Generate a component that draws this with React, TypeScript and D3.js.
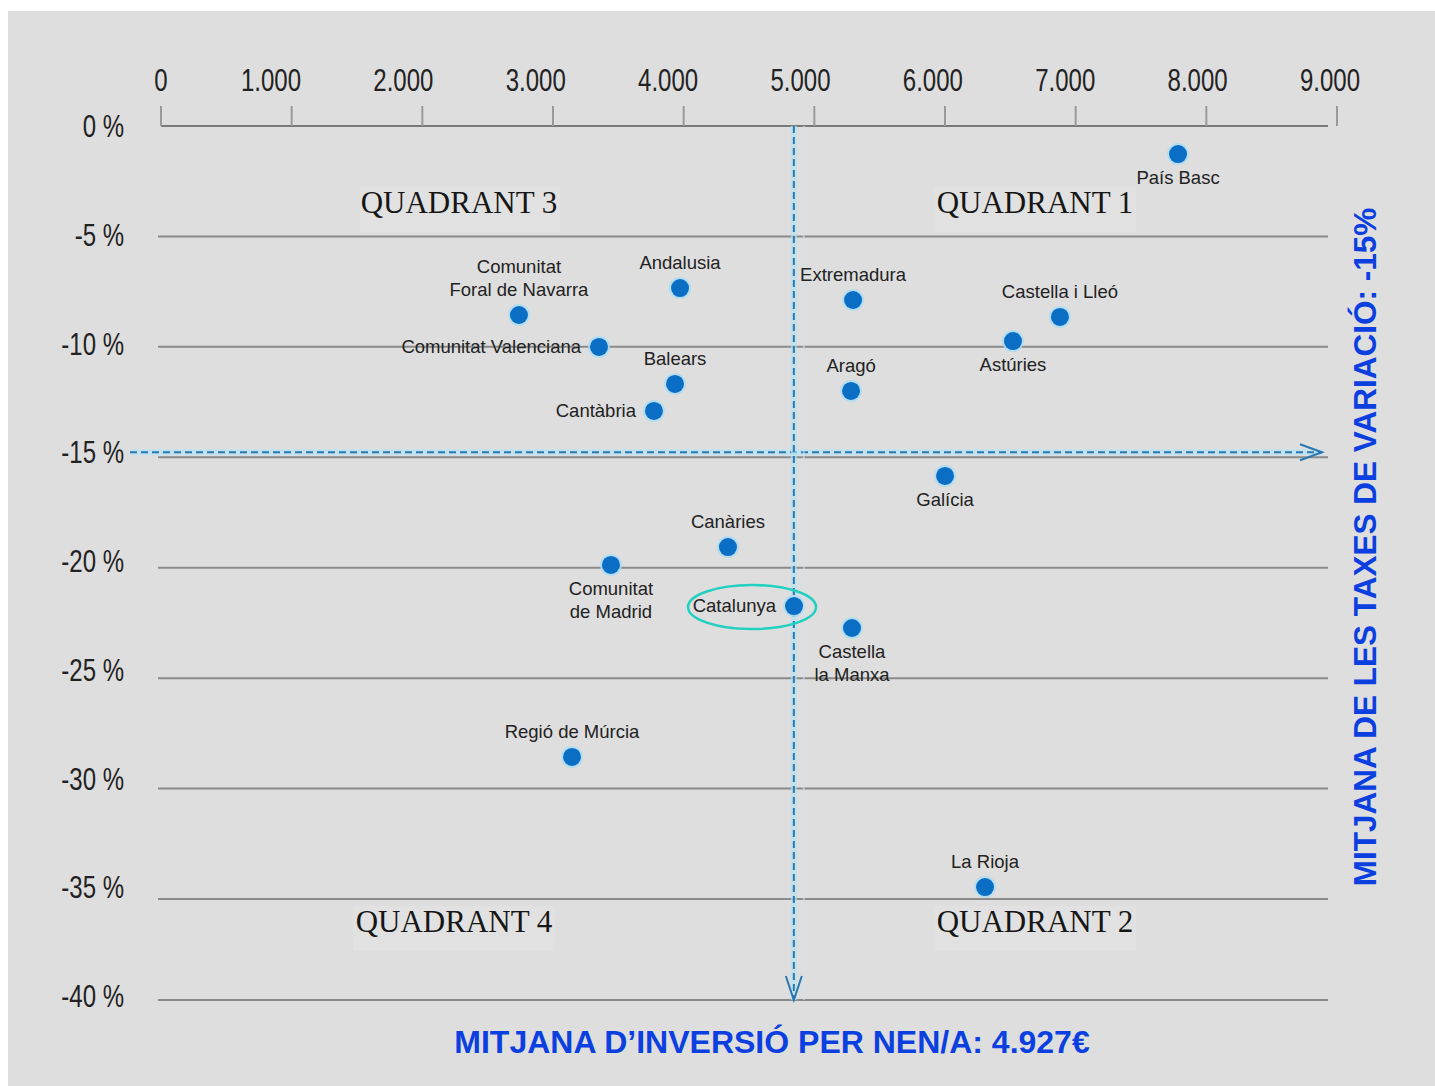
import React from "react";
import * as d3 from "d3";

const xTicks = [0, 1000, 2000, 3000, 4000, 5000, 6000, 7000, 8000, 9000];
const xTickLabels = ["0", "1.000", "2.000", "3.000", "4.000", "5.000", "6.000", "7.000", "8.000", "9.000"];
const yTicks = [0, -5, -10, -15, -20, -25, -30, -35, -40];
const yTickLabels = ["0 %", "-5 %", "-10 %", "-15 %", "-20 %", "-25 %", "-30 %", "-35 %", "-40 %"];

const regions = [
  "País Basc", "Andalusia", "Comunitat|Foral de Navarra", "Comunitat Valenciana", "Balears",
  "Cantàbria", "Extremadura", "Aragó", "Astúries", "Castella i Lleó", "Galícia", "Canàries",
  "Comunitat|de Madrid", "Catalunya", "Castella|la Manxa", "Regió de Múrcia", "La Rioja",
];
const investment = [7852, 4090, 2873, 3478, 4052, 3893, 5397, 5382, 6605, 6960, 6092, 4452, 3568, 4951, 5389, 3274, 6394];
const variation = [-1.29, -7.45, -8.69, -10.16, -11.86, -13.1, -8.0, -12.18, -9.89, -8.78, -16.09, -19.36, -20.18, -22.07, -23.08, -29.01, -34.99];
const labelSide = ["below", "above", "above", "left", "above", "left", "above", "above", "below", "above", "below", "above", "below", "left", "below", "above", "above"];

const quadrants = ["QUADRANT 1", "QUADRANT 2", "QUADRANT 3", "QUADRANT 4"];
const meanInvestment = 4927;
const meanVariation = -15;
const bottomTitle = "MITJANA D\u2019INVERSIÓ PER NEN/A: 4.927€";
const rightTitle = "MITJANA DE LES TAXES DE VARIACIÓ: -15%";

export default function App() {
  // data / label scales
  const x = d3.scaleLinear().domain([0, 1000, 9000]).range([161, 271, 1330]);
  const y = d3.scaleLinear().domain([0, -40]).range([126, 996]);
  // tick-mark and gridline scales (as drawn in the source graphic)
  const xt = d3.scaleLinear().domain([0, 9000]).range([161, 1337]);
  const yg = d3.scaleLinear().domain([0, -35, -40]).range([126, 899, 1000]);
  const gridRight = 1328;
  const blue = "#0b3fe0";
  const dash = "#2a78b0";
  const mx = x(meanInvestment) + 3;
  const my = y(meanVariation);
  const sans = "'Liberation Sans', Arial, sans-serif";
  const serif = "'Liberation Serif', 'Times New Roman', serif";
  const condensed = (key: string, tx: number, ty: number, label: string, anchor: "middle" | "end") => (
    <g key={key} transform={`translate(${tx},${ty}) scale(0.75,1)`}>
      <text x={0} y={0} textAnchor={anchor} fontFamily={sans} fontSize={32} fill="#222">
        {label}
      </text>
    </g>
  );

  return (
    <svg width={1435} height={1086} style={{ position: "absolute", left: 0, top: 0, background: "#fff" }}>
      <rect x={8} y={11} width={1427} height={1075} fill="#dedede" />

      {/* quadrant label boxes */}
      <rect x={360} y={187} width={200} height={45} fill="#e1e1e1" />
      <rect x={934} y={187} width={202} height={45} fill="#e1e1e1" />
      <rect x={353} y={906} width={202} height={45} fill="#e1e1e1" />
      <rect x={934} y={906} width={202} height={45} fill="#e1e1e1" />

      {/* top axis */}
      <line x1={xt(0)} x2={gridRight} y1={yg(0)} y2={yg(0)} stroke="#7a7a7a" strokeWidth={2} />
      {xTicks.map((t, i) => (
        <g key={"xt" + i}>
          <line x1={xt(t)} x2={xt(t)} y1={yg(0)} y2={yg(0) - 20} stroke="#9a9a9a" strokeWidth={2} />
          {condensed("xl" + i, x(t), 91, xTickLabels[i], "middle")}
        </g>
      ))}

      {/* horizontal gridlines + y labels */}
      {yTicks.map((t, i) => (
        <g key={"yt" + i}>
          {t !== 0 && <line x1={158} x2={gridRight} y1={yg(t)} y2={yg(t)} stroke="#8a8a8a" strokeWidth={2} />}
          {condensed("yl" + i, 124, y(t) + 11, yTickLabels[i], "end")}
        </g>
      ))}

      {/* quadrant labels */}
      <text x={1035} y={213} textAnchor="middle" fontFamily={serif} fontSize={31} fill="#161616">{quadrants[0]}</text>
      <text x={1035} y={932} textAnchor="middle" fontFamily={serif} fontSize={31} fill="#161616">{quadrants[1]}</text>
      <text x={459} y={213} textAnchor="middle" fontFamily={serif} fontSize={31} fill="#161616">{quadrants[2]}</text>
      <text x={454} y={932} textAnchor="middle" fontFamily={serif} fontSize={31} fill="#161616">{quadrants[3]}</text>

      {/* mean lines */}
      <line x1={130} x2={1322} y1={my} y2={my} stroke="#b7e3f5" strokeWidth={6} opacity={0.7} />
      <line x1={130} x2={1322} y1={my} y2={my} stroke={dash} strokeWidth={2} strokeDasharray="7 4" />
      <path d={`M${1300},${my - 8} L${1322},${my} L${1300},${my + 8}`} fill="none" stroke={dash} strokeWidth={2} />
      <line x1={mx} x2={mx} y1={yg(0)} y2={yg(-40)} stroke="#b7e3f5" strokeWidth={6} opacity={0.7} />
      <line x1={mx + 10} x2={mx + 10} y1={yg(0)} y2={yg(-40)} stroke="#cfe6f0" strokeWidth={2} opacity={0.6} />
      <line x1={mx} x2={mx} y1={yg(0)} y2={yg(-40)} stroke={dash} strokeWidth={2} strokeDasharray="7 4" />
      <path d={`M${mx - 8},${yg(-40) - 24} L${mx},${yg(-40)} L${mx + 8},${yg(-40) - 24}`} fill="none" stroke={dash} strokeWidth={2} />

      {/* points */}
      {regions.map((r, i) => {
        const px = x(investment[i]);
        const py = y(variation[i]);
        const lines = r.split("|");
        const side = labelSide[i];
        let tx = px;
        let ty = py;
        let anchor: "middle" | "end" = "middle";
        if (side === "above") {
          ty = py - 19 - (lines.length - 1) * 23;
        } else if (side === "below") {
          ty = py + 30;
        } else {
          tx = px - 18;
          ty = py + 6;
          anchor = "end";
        }
        return (
          <g key={"p" + i}>
            {r === "Catalunya" && (
              <ellipse cx={px - 42} cy={py + 1} rx={64} ry={22} fill="none" stroke="#22d0c2" strokeWidth={2.5} />
            )}
            <circle cx={px} cy={py} r={11} fill="#a9dcf5" opacity={0.8} />
            <circle cx={px} cy={py} r={9} fill="#0a6ec4" />
            {lines.map((ln, k) => (
              <text key={k} x={tx} y={ty + k * 23} textAnchor={anchor} fontFamily={sans} fontSize={18.5} fill="#222">
                {ln}
              </text>
            ))}
          </g>
        );
      })}

      {/* titles */}
      <text x={772} y={1053} textAnchor="middle" fontFamily={sans} fontWeight="bold" fontSize={32} fill={blue}>
        {bottomTitle}
      </text>
      <text
        transform={`translate(1376,547) rotate(-90)`}
        textAnchor="middle"
        fontFamily={sans}
        fontWeight="bold"
        fontSize={31.5}
        fill={blue}
      >
        {rightTitle}
      </text>
    </svg>
  );
}
